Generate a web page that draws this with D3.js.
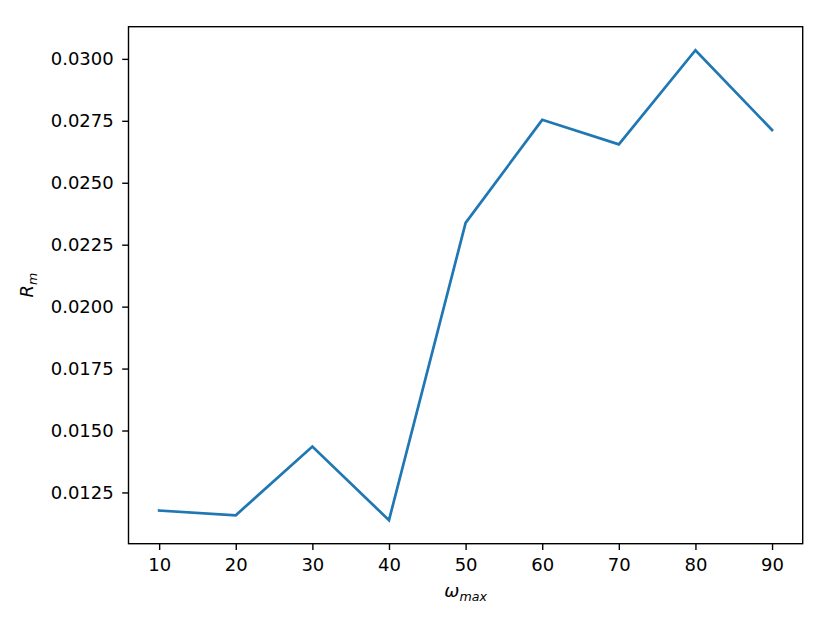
<!DOCTYPE html>
<html>
<head>
<meta charset="utf-8">
<script src="https://cdn.jsdelivr.net/npm/d3@7"></script>
<style>
  body { margin: 0; background: #fff; }
  svg { display: block; font-family: "DejaVu Sans", sans-serif; }
</style>
</head>
<body>
<svg id="chart"></svg>
<script>
var width = 830;
var height = 623;

// plot area, in pixels (note: "top" is taken by window.top, so prefix them)
var plotLeft = 128.5, plotRight = 802.7, plotTop = 26.7, plotBottom = 543.7;

var omegaMax = [10, 20, 30, 40, 50, 60, 70, 80, 90];
var rm = [0.01177, 0.01158, 0.01435, 0.01138, 0.02338, 0.02754, 0.02655, 0.03035, 0.02713];
var xTicks = [10, 20, 30, 40, 50, 60, 70, 80, 90];
var yTicks = [0.0125, 0.0150, 0.0175, 0.0200, 0.0225, 0.0250, 0.0275, 0.0300];

// matplotlib style 5% margins
function padded(ext){
  var m = (ext[1] - ext[0]) * 0.05;
  return [ext[0] - m, ext[1] + m];
}

var xScale = d3.scaleLinear()
  .domain(padded(d3.extent(omegaMax)))
  .range([plotLeft, plotRight]);

var yScale = d3.scaleLinear()
  .domain(padded(d3.extent(rm)))
  .range([plotBottom, plotTop]);

var svg = d3.select('#chart')
  .attr('width', width)
  .attr('height', height);

svg.append('rect')
  .attr('width', width)
  .attr('height', height)
  .attr('fill', '#fff');

var xAxis = svg.append('g')
  .attr('transform', `translate(0, ${plotBottom})`)
  .call(d3.axisBottom(xScale)
    .tickValues(xTicks)
    .tickSize(6.3)
    .tickPadding(8.5)
    .tickSizeOuter(0)
    .tickFormat(d3.format('d')));

var yAxis = svg.append('g')
  .attr('transform', `translate(${plotLeft}, 0)`)
  .call(d3.axisLeft(yScale)
    .tickValues(yTicks)
    .tickSize(6.3)
    .tickPadding(8.5)
    .tickSizeOuter(0)
    .tickFormat(d3.format('.4f')));

svg.selectAll('.tick text')
  .attr('font-size', 18)
  .attr('font-family', '"DejaVu Sans", sans-serif')
  .attr('fill', '#000');
svg.selectAll('.tick line')
  .attr('stroke', '#000')
  .attr('stroke-width', 1.4);
svg.selectAll('.domain').remove();

// the line
svg.append('path')
  .datum(d3.zip(omegaMax, rm))
  .attr('fill', 'none')
  .attr('stroke', '#1f77b4')
  .attr('stroke-width', 2.7)
  .attr('stroke-linejoin', 'miter')
  .attr('stroke-linecap', 'square')
  .attr('d', d3.line()
    .x(d => xScale(d[0]))
    .y(d => yScale(d[1])));

// frame
svg.append('rect')
  .attr('x', plotLeft)
  .attr('y', plotTop)
  .attr('width', plotRight - plotLeft)
  .attr('height', plotBottom - plotTop)
  .attr('fill', 'none')
  .attr('stroke', '#000')
  .attr('stroke-width', 1.4);

// x label: omega_max
var xLabel = svg.append('text')
  .attr('x', (plotLeft + plotRight) / 2)
  .attr('y', 597)
  .attr('text-anchor', 'middle')
  .attr('font-size', 18);
xLabel.append('tspan').attr('font-style', 'italic').text('ω');
xLabel.append('tspan').attr('font-style', 'italic').attr('font-size', 12.6).attr('dy', 3.5).text('max');

// y label: R_m
var yLabel = svg.append('text')
  .attr('transform', `translate(33, ${(plotTop + plotBottom) / 2}) rotate(-90)`)
  .attr('text-anchor', 'middle')
  .attr('font-size', 18);
yLabel.append('tspan').attr('font-style', 'italic').text('R');
yLabel.append('tspan').attr('font-style', 'italic').attr('font-size', 12.6).attr('dy', 3.5).text('m');
</script>
</body>
</html>
